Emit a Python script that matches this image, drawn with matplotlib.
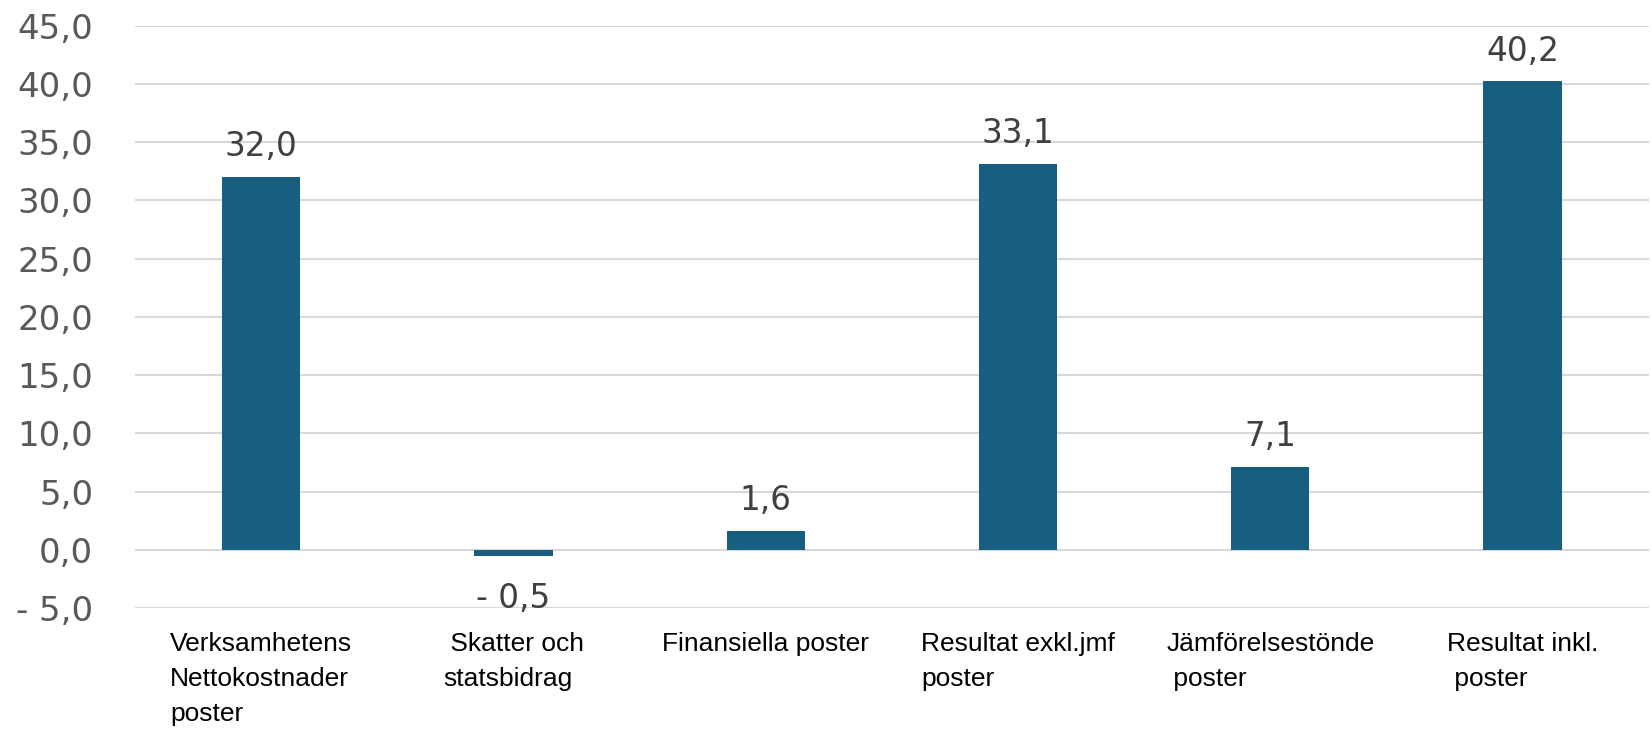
import matplotlib.pyplot as plt
from matplotlib.ticker import FuncFormatter

categories = ["Verksamhetens\nNettokostnader\nposter", " Skatter och\nstatsbidrag",
              "Finansiella poster", "Resultat exkl.jmf\nposter",
              "Jämförelsestönde\n poster", "Resultat inkl.\n poster"]
values = [32.0, -0.5, 1.6, 33.1, 7.1, 40.2]
yticks = [-5, 0, 5, 10, 15, 20, 25, 30, 35, 40, 45]


def sv_fmt(v, pos=None):
    s = f"{abs(v):.1f}".replace(".", ",")
    return ("- " + s) if v < -1e-9 else s


plt.rcParams['font.family'] = ['Liberation Sans', 'DejaVu Sans']

fig = plt.figure(figsize=(16.52, 7.30), dpi=100)
ax = fig.add_axes([0.0817, 0.167, 0.9163, 0.798])

x = range(len(categories))
ax.bar(x, values, width=0.31, color="#175E80", zorder=3)

for i, v in zip(x, values):
    off = 10 if v >= 0 else -19
    ax.annotate(sv_fmt(v), (i, v), xytext=(0, off), textcoords="offset points",
                ha="center", va="bottom" if v >= 0 else "top",
                fontsize=23.5, color="#404040", family="DejaVu Sans")

ax.set_xlim(-0.5, len(categories) - 0.5)
ax.set_ylim(-5, 45)
ax.set_yticks(yticks)
ax.yaxis.set_major_formatter(FuncFormatter(sv_fmt))
ax.grid(axis="y", color="#D9D9D9", linewidth=1.5, zorder=0)
for s in ax.spines.values():
    s.set_visible(False)

ax.set_xticks(list(x))
ax.set_xticklabels(categories, multialignment="left", linespacing=1.58,
                   fontsize=19, color="black")
ax.tick_params(axis="x", length=0, pad=17)
ax.tick_params(axis="y", length=0, pad=30, labelsize=24.5, labelcolor="#595959")
for lbl in ax.get_yticklabels():
    lbl.set_family("DejaVu Sans")

fig.savefig("out.png", dpi=100)
